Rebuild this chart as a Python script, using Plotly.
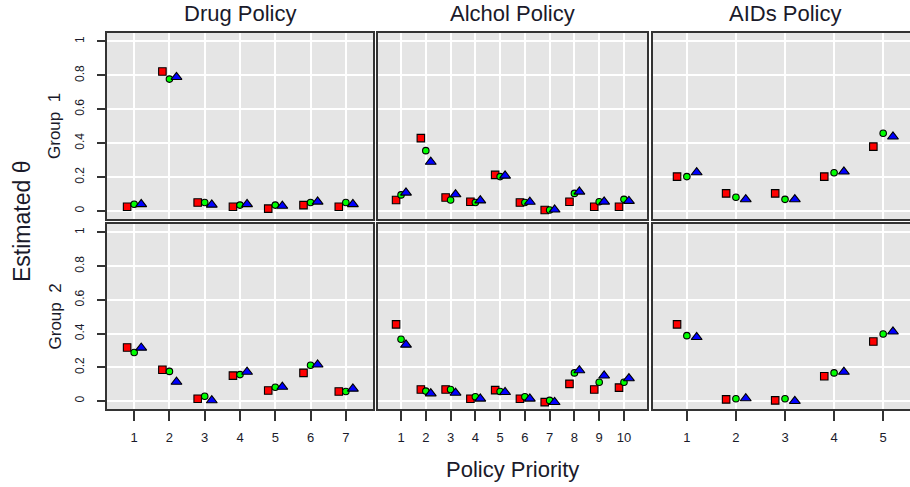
import plotly.graph_objects as go

# ---------------- data ----------------
policies = ["Drug Policy", "Alchol Policy", "AIDs Policy"]
groups = ["Group\u00a0\u00a01", "Group\u00a0\u00a02"]
series_names = ["Model A", "Model B", "Model C"]

drug_x = [1, 2, 3, 4, 5, 6, 7]
alc_x = [1, 2, 3, 4, 5, 6, 7, 8, 9, 10]
aids_x = [1, 2, 3, 4, 5]

drug_g1_red = [0.025, 0.823, 0.05, 0.025, 0.014, 0.035, 0.025]
drug_g1_green = [0.04, 0.778, 0.05, 0.035, 0.035, 0.05, 0.05]
drug_g1_blue = [0.04, 0.79, 0.037, 0.04, 0.03, 0.055, 0.04]

alc_g1_red = [0.065, 0.43, 0.08, 0.055, 0.213, 0.05, 0.006, 0.055, 0.025, 0.025]
alc_g1_green = [0.095, 0.356, 0.065, 0.05, 0.203, 0.05, 0.006, 0.104, 0.055, 0.069]
alc_g1_blue = [0.108, 0.29, 0.098, 0.062, 0.208, 0.054, 0.008, 0.114, 0.055, 0.059]

aids_g1_red = [0.203, 0.104, 0.104, 0.203, 0.38]
aids_g1_green = [0.203, 0.081, 0.069, 0.226, 0.459]
aids_g1_blue = [0.228, 0.069, 0.069, 0.232, 0.439]

drug_g2_red = [0.318, 0.186, 0.014, 0.151, 0.063, 0.167, 0.057]
drug_g2_green = [0.288, 0.176, 0.029, 0.157, 0.082, 0.212, 0.057]
drug_g2_blue = [0.316, 0.114, 0.004, 0.173, 0.084, 0.216, 0.073]

alc_g2_red = [0.455, 0.069, 0.069, 0.014, 0.065, 0.014, -0.006, 0.102, 0.069, 0.08]
alc_g2_green = [0.367, 0.059, 0.069, 0.026, 0.057, 0.026, 0.004, 0.167, 0.112, 0.112]
alc_g2_blue = [0.334, 0.045, 0.049, 0.014, 0.053, 0.014, -0.006, 0.182, 0.151, 0.135]

aids_g2_red = [0.455, 0.01, 0.004, 0.147, 0.353]
aids_g2_green = [0.388, 0.014, 0.014, 0.167, 0.398]
aids_g2_blue = [0.379, 0.016, 0.0, 0.173, 0.412]

y_tickvals = [0, 0.2, 0.4, 0.6, 0.8, 1]
y_ticktext = ["0", "0.2", "0.4", "0.6", "0.8", "1"]

# ---------------- layout geometry (pixels) ----------------
W, H = 910, 487
col_px = [(107, 373), (378, 647), (653, 910)]
row_px = [(33, 219), (224, 409)]
x_ranges = [[0.23, 7.77], [0.07, 10.93], [0.31, 5.547]]
y_range = [-0.047, 1.05]
offsets = [-0.2, 0.0, 0.2]

panels = [
    [(drug_x, [drug_g1_red, drug_g1_green, drug_g1_blue]),
     (alc_x, [alc_g1_red, alc_g1_green, alc_g1_blue]),
     (aids_x, [aids_g1_red, aids_g1_green, aids_g1_blue])],
    [(drug_x, [drug_g2_red, drug_g2_green, drug_g2_blue]),
     (alc_x, [alc_g2_red, alc_g2_green, alc_g2_blue]),
     (aids_x, [aids_g2_red, aids_g2_green, aids_g2_blue])],
]

styles = [
    dict(symbol="square", size=7.5, color="#FF0000"),
    dict(symbol="circle", size=6.5, color="#00FF00"),
    dict(symbol="triangle-up", size=9.5, color="#0000FF"),
]

FONT = "Liberation Sans, Arial, sans-serif"
TXT = "#1a1a2a"
FRAME = "#333333"

fig = go.Figure()
layout = dict(
    width=W, height=H, autosize=False,
    margin=dict(l=0, r=0, t=0, b=0),
    paper_bgcolor="white", plot_bgcolor="#E5E5E5",
    showlegend=False,
    font=dict(family=FONT, color=TXT),
    annotations=[],
)

idx = 0
for r in range(2):
    for c in range(3):
        idx += 1
        xs, ys_list = panels[r][c]
        xname = "x" if idx == 1 else f"x{idx}"
        yname = "y" if idx == 1 else f"y{idx}"
        for s, ys in enumerate(ys_list):
            st = styles[s]
            fig.add_trace(go.Scatter(
                x=[v + offsets[s] for v in xs], y=ys, mode="markers",
                name=series_names[s], xaxis=xname, yaxis=yname,
                marker=dict(symbol=st["symbol"], size=st["size"], color=st["color"],
                            line=dict(color="black", width=1.1)),
                hoverinfo="skip", cliponaxis=False,
            ))
        x0, x1 = col_px[c]
        y0, y1 = row_px[r]
        xk = "xaxis" if idx == 1 else f"xaxis{idx}"
        yk = "yaxis" if idx == 1 else f"yaxis{idx}"
        layout[xk] = dict(
            domain=[x0 / W, x1 / W], range=x_ranges[c], anchor=yname,
            tickvals=xs, ticktext=[str(v) for v in xs],
            showgrid=True, gridcolor="white", gridwidth=1.6, zeroline=False,
            showline=True, linecolor=FRAME, linewidth=2.4, mirror=True,
            ticks="outside" if r == 1 else "", ticklen=10, tickwidth=1.5, tickcolor=FRAME,
            showticklabels=(r == 1), ticklabelstandoff=5,
            tickfont=dict(size=13, color=TXT, family=FONT),
            fixedrange=True,
        )
        layout[yk] = dict(
            domain=[1 - y1 / H, 1 - y0 / H], range=y_range, anchor=xname,
            tickvals=y_tickvals, ticktext=y_ticktext, tickangle=-90,
            showgrid=True, gridcolor="white", gridwidth=1.6, zeroline=False,
            showline=True, linecolor=FRAME, linewidth=2.4, mirror=(c != 2),
            ticks="outside" if c == 0 else "", ticklen=8, tickwidth=1.5, tickcolor=FRAME,
            showticklabels=(c == 0), ticklabelstandoff=8,
            tickfont=dict(size=12, color=TXT, family=FONT),
            fixedrange=True,
        )

# strip titles
title_centers = [240, 512.5, 785]
for c, name in enumerate(policies):
    layout["annotations"].append(dict(
        text=name, x=title_centers[c] / W, y=1 - 14 / H, xref="paper", yref="paper",
        showarrow=False, xanchor="center", yanchor="middle",
        font=dict(size=22, color=TXT, family=FONT)))

# group labels
for r, g in enumerate(groups):
    yc = (row_px[r][0] + row_px[r][1]) / 2
    layout["annotations"].append(dict(
        text=g, x=55 / W, y=1 - yc / H, xref="paper", yref="paper",
        showarrow=False, xanchor="center", yanchor="middle", textangle=-90,
        font=dict(size=17, color=TXT, family=FONT)))

layout["annotations"].append(dict(
    text="Estimated θ", x=22 / W, y=1 - 222 / H, xref="paper", yref="paper",
    showarrow=False, xanchor="center", yanchor="middle", textangle=-90,
    font=dict(size=23, color=TXT, family=FONT)))

layout["annotations"].append(dict(
    text="Policy Priority", x=512.5 / W, y=1 - 469 / H, xref="paper", yref="paper",
    showarrow=False, xanchor="center", yanchor="middle",
    font=dict(size=22, color=TXT, family=FONT)))

fig.update_layout(**layout)
fig.write_html("out.html", config={"displayModeBar": False},
               post_script="document.body.style.margin='0px';document.body.style.padding='0px';")
